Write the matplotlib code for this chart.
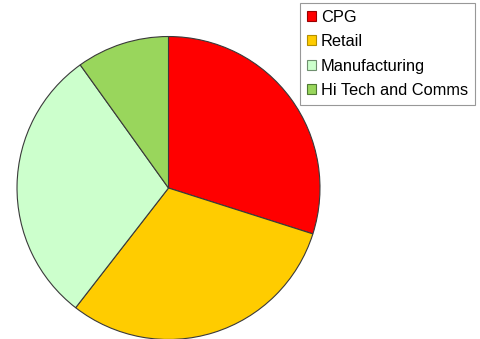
import matplotlib
matplotlib.use("Agg")
import matplotlib.pyplot as plt
from matplotlib.patches import Patch

# ── Data ────────────────────────────────────────────────────────────────────
labels = ["CPG", "Retail", "Manufacturing", "Hi Tech and Comms"]
shares = [29.9, 30.6, 29.6, 9.9]
colors = ["#ff0000", "#ffcc00", "#ccffcc", "#99d65c"]
edges = ["#990000", "#b38f00", "#6f8f6f", "#4f7a33"]

plt.rcParams["font.family"] = ["Liberation Sans", "DejaVu Sans"]

fig = plt.figure(figsize=(4.8, 3.39), dpi=100)
fig.patch.set_facecolor("white")

# pie centred at ~(168, 188) px with radius ~153 px
W, H = 480, 339
cx, cy, r = 168.5, 188, 153
ax = fig.add_axes([(cx - r) / W, (H - cy - r) / H, 2 * r / W, 2 * r / H])
wedges, _ = ax.pie(shares, colors=colors, startangle=90, counterclock=False,
                   radius=1.0,
                   wedgeprops={"edgecolor": "#3a3a3a", "linewidth": 0.8})
ax.set_xlim(-1.01, 1.01)
ax.set_ylim(-1.01, 1.01)
ax.set_aspect("equal")
ax.axis("off")

handles = [Patch(facecolor=c, edgecolor=e, linewidth=0.8) for c, e in zip(colors, edges)]
leg = fig.legend(handles, labels, loc="upper right",
                 bbox_to_anchor=(475 / W, 1 - 3 / H), bbox_transform=fig.transFigure,
                 fontsize=11.8, frameon=True, fancybox=False,
                 handlelength=0.55, handleheight=0.55, handletextpad=0.3,
                 labelspacing=0.57, borderpad=0.42, borderaxespad=0)
leg.get_frame().set_edgecolor("#7f7f7f")
leg.get_frame().set_linewidth(0.8)

fig.savefig("out.png", dpi=100, facecolor="white")
